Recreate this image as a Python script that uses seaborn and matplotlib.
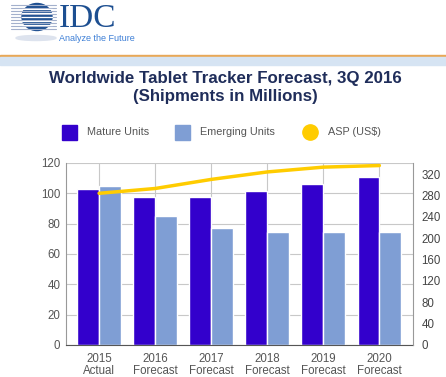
import numpy as np
import pandas as pd
import seaborn as sns
import matplotlib.pyplot as plt
from matplotlib.patches import Rectangle, Ellipse
from matplotlib.lines import Line2D

years = ['2015\nActual', '2016\nForecast', '2017\nForecast', '2018\nForecast', '2019\nForecast', '2020\nForecast']
mature = [102.6, 97.3, 97.3, 101.2, 106.1, 110.9]
emerging = [104.8, 85.0, 76.9, 74.5, 74.5, 74.5]
asp = [284, 293, 310, 324, 333, 336]

sns.set_style('white')
plt.rcParams['font.family'] = ['Liberation Sans', 'DejaVu Sans']

df = pd.DataFrame({'year': years * 2,
                   'units': mature + emerging,
                   'series': ['Mature Units'] * 6 + ['Emerging Units'] * 6})

c_mat = '#3300cc'
c_emg = '#7f9ed4'
c_asp = '#ffcc00'
grey = '#555555'

fig = plt.figure(figsize=(4.46, 3.77), dpi=100)
ax = fig.add_axes([0.148, 0.085, 0.778, 0.483])

sns.barplot(data=df, x='year', y='units', hue='series', ax=ax,
            palette=[c_mat, c_emg], width=0.78, gap=0, saturation=1, legend=False)
ax.set_xlim(-0.59, 5.6)
ax.set_ylim(0, 120)
ax.set_yticks(range(0, 121, 20))
ax.set_xlabel('')
ax.set_ylabel('')
ax.grid(True, color='#c8c8c8', lw=0.8)
ax.set_axisbelow(True)
ax.tick_params(labelsize=8.3, colors=grey, length=0, pad=4)
ax.tick_params(axis='x', pad=6)
for t in ax.get_xticklabels():
    t.set_linespacing(1.0)

ax2 = ax.twinx()
sns.lineplot(x=np.arange(6), y=asp, ax=ax2, color=c_asp, lw=2.5)
ax2.set_ylim(0, 341)
ax2.set_yticks(range(0, 321, 40))
ax2.tick_params(labelsize=8.3, colors='#444444', length=0, pad=6)

for a in (ax, ax2):
    for s in a.spines.values():
        s.set_visible(False)
ax.spines['left'].set_visible(True)
ax.spines['bottom'].set_visible(True)
ax2.spines['right'].set_visible(True)
ax.spines['left'].set_color('#999999')
ax.spines['bottom'].set_color('#555555')
ax2.spines['right'].set_color('#999999')

# header
fig.add_artist(Rectangle((0, 1 - 57 / 377), 1, 2 / 377, transform=fig.transFigure, color='#e8a857'))
fig.add_artist(Rectangle((0, 1 - 65 / 377), 1, 8 / 377, transform=fig.transFigure, color='#d6e4f3'))
fig.add_artist(Ellipse((36 / 446, 1 - 38 / 377), 40 / 446, 5 / 377, transform=fig.transFigure, color='#dde3ee'))
for yy in [5, 8, 11, 14, 17, 20, 23, 26, 29]:
    fig.add_artist(Line2D([11 / 446, 56 / 446], [1 - yy / 377] * 2, color='#a3b0cc', lw=0.8))
fig.add_artist(Ellipse((37 / 446, 1 - 17 / 377), 30 / 446, 27 / 377, transform=fig.transFigure, color='#1d4f91'))
for yy in [9, 13, 17, 21, 25]:
    fig.add_artist(Line2D([22 / 446, 52 / 446], [1 - yy / 377] * 2, color='white', lw=0.9))
fig.text(59 / 446, 1 - 27 / 377, 'IDC', family='Liberation Serif', fontsize=24, color='#1d4f91',
         va='baseline')
fig.text(59 / 446, 1 - 34 / 377, 'Analyze the Future', fontsize=6.5, color='#3d7fd6', va='top')

fig.text(0.505, 1 - 78 / 377, 'Worldwide Tablet Tracker Forecast, 3Q 2016', ha='center', va='center',
         fontsize=12.2, fontweight='bold', color='#1f2d5a')
fig.text(0.505, 1 - 97 / 377, '(Shipments in Millions)', ha='center', va='center',
         fontsize=12.2, fontweight='bold', color='#1f2d5a')

# legend
ly = 1 - 132 / 377
fig.add_artist(Rectangle((62 / 446, ly - 7.5 / 377), 15 / 446, 15 / 377, transform=fig.transFigure, color=c_mat))
fig.text(87 / 446, ly, 'Mature Units', va='center', fontsize=7.8, color=grey)
fig.add_artist(Rectangle((175 / 446, ly - 7.5 / 377), 15 / 446, 15 / 377, transform=fig.transFigure, color=c_emg))
fig.text(200 / 446, ly, 'Emerging Units', va='center', fontsize=7.8, color=grey)
fig.add_artist(Line2D([310 / 446], [ly], marker='o', ms=11, color=c_asp, transform=fig.transFigure))
fig.text(328 / 446, ly, 'ASP (US$)', va='center', fontsize=7.8, color=grey)

fig.savefig('out.png', dpi=100)
